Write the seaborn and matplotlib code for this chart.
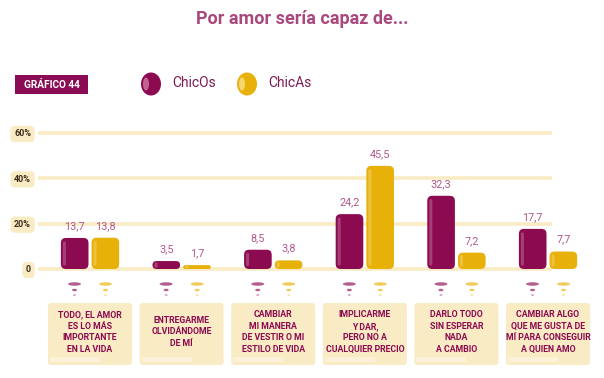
import pandas as pd
import matplotlib
matplotlib.use("Agg")
import matplotlib.pyplot as plt
import seaborn as sns
from matplotlib.patches import FancyBboxPatch, Ellipse, Rectangle

categorias = [
    "TODO, EL AMOR\nES LO MÁS\nIMPORTANTE\nEN LA VIDA",
    "ENTREGARME\nOLVIDÁNDOME\nDE MÍ",
    "CAMBIAR\nMI MANERA\nDE VESTIR O MI\nESTILO DE VIDA",
    "IMPLICARME\nY DAR,\nPERO NO A\nCUALQUIER PRECIO",
    "DARLO TODO\nSIN ESPERAR\nNADA\nA CAMBIO",
    "CAMBIAR ALGO\nQUE ME GUSTA DE\nMÍ PARA CONSEGUIR\nA QUIEN AMO",
]
chicos = [13.7, 3.5, 8.5, 24.2, 32.3, 17.7]
chicas = [13.8, 1.7, 3.8, 45.5, 7.2, 7.7]
series = ["ChicOs", "ChicAs"]
ticks = [0, 20, 40, 60]
tick_labels = ["0", "20%", "40%", "60%"]

MORADO = "#8c0a50"
AMARILLO = "#e8b10a"
CREMA = "#f9ebc4"
TEXTO = "#8c0a50"
NUM = "#b0588c"

sns.set_theme(style="white")
plt.rcParams["font.family"] = ["Roboto", "DejaVu Sans"]

df = pd.DataFrame({
    "cat": categorias * 2,
    "serie": [series[0]] * 6 + [series[1]] * 6,
    "valor": chicos + chicas,
})

W, H = 604, 378
fig = plt.figure(figsize=(W / 100, H / 100), dpi=100)

# ejes principales (en pixeles: x 38..600, y 125..275)
x0 = -0.568
px_x = 91.6
y0_pix = 269
px_y = 136 / 60
left_pix, right_pix, top_pix, bot_pix = 38, 600, 125, 275
ax = fig.add_axes([left_pix / W, (H - bot_pix) / H,
                   (right_pix - left_pix) / W, (bot_pix - top_pix) / H])

sns.barplot(data=df, x="cat", y="valor", hue="serie", order=categorias,
            palette=[MORADO, AMARILLO], saturation=1, width=0.67, gap=0.1,
            legend=False, ax=ax, zorder=3)
ax.set_xlim(x0, x0 + (right_pix - left_pix) / px_x)
ax.set_ylim(-(bot_pix - y0_pix) / px_y, (y0_pix - top_pix) / px_y)

# lineas de la cuadricula
ax.hlines(ticks, x0, x0 + (552 - left_pix) / px_x, color=CREMA, lw=2.6, zorder=1)

# barras redondeadas
asp = px_x / px_y
r = 5 / px_x
barras = [p for p in ax.patches if isinstance(p, Rectangle)]
for p in barras:
    x, y, w, h = p.get_x(), p.get_y(), p.get_width(), p.get_height()
    color = p.get_facecolor()
    p.remove()
    rr = min(r, w / 2, h / asp / 2)
    ax.add_patch(FancyBboxPatch((x, y), w, h,
                                boxstyle=f"round,pad=0,rounding_size={rr}",
                                mutation_aspect=asp, fc=color, ec="none", zorder=3))
    # brillo lateral
    ax.add_patch(FancyBboxPatch((x + 2 / px_x, y + min(h * 0.15, 1.5)), 3 / px_x,
                                max(h - min(h * 0.3, 3), 0.3),
                                boxstyle=f"round,pad=0,rounding_size={min(1.5 / px_x, h / asp / 4)}",
                                mutation_aspect=asp, fc="white", alpha=0.22,
                                ec="none", zorder=4))
    ax.annotate(f"{h:.1f}".replace(".", ","), (x + w / 2, h), xytext=(0, 5),
                textcoords="offset points", ha="center", va="bottom",
                fontsize=7.8, color=NUM, zorder=5)

ax.set_xticks([])
ax.set_yticks(ticks)
ax.set_yticklabels(tick_labels)
ax.tick_params(axis="y", length=0, pad=5, labelsize=6.5)
for lab in ax.get_yticklabels():
    lab.set_fontweight("bold")
    lab.set_color("#3a2a1a")
    lab.set_bbox(dict(boxstyle="round,pad=0.4,rounding_size=0.5", fc=CREMA, ec="none"))
ax.set_xlabel("")
ax.set_ylabel("")
sns.despine(ax=ax, left=True, bottom=True)
ax.set_facecolor("none")

# capa en pixeles para titulo, leyenda y etiquetas
ov = fig.add_axes([0, 0, 1, 1], zorder=-1)
ov.set_xlim(0, W)
ov.set_ylim(H, 0)
ov.axis("off")

ov.text(W / 2, 19, "Por amor sería capaz de...", ha="center", va="center",
        fontsize=13, fontweight="bold", color="#a8487e")

ov.add_patch(Rectangle((15, 75), 73, 19, fc="#8a0c54", ec="none"))
ov.text(51.5, 84.5, "GRÁFICO 44", ha="center", va="center", fontsize=7.3,
        fontweight="bold", color="white")

for cx, col, nombre, luz in [(151, MORADO, series[0], "#d27aa6"),
                             (247, AMARILLO, series[1], "#fbe08a")]:
    ov.add_patch(Ellipse((cx, 84), 20, 23, fc=col, ec="none"))
    ov.add_patch(Ellipse((cx - 5, 84), 6, 13, fc=luz, ec="none", alpha=0.8))
    ov.text(cx + 21, 83, nombre, ha="left", va="center", fontsize=10,
            color="#7d1a55")

# cajas de categorias y embudos
centros = [0, 1, 2, 3, 4, 5]
for i, texto in enumerate(categorias):
    cx = left_pix + (centros[i] - x0) * px_x
    ov.add_patch(FancyBboxPatch((cx - 42, 303), 84, 62,
                                boxstyle="round,pad=0,rounding_size=3",
                                fc=CREMA, ec="none"))
    ov.add_patch(Rectangle((cx - 40, 357), 50, 5, fc="white", alpha=0.35, ec="none"))
    ov.text(cx, 332, texto, ha="center", va="center", fontsize=6.3,
            fontweight="bold", color=TEXTO, linespacing=1.35)
    for dx, col in [(-15.5, "#b4608f"), (15.5, "#f0cc5c")]:
        ov.add_patch(Ellipse((cx + dx, 284), 13, 3.5, fc=col, ec="none"))
        ov.add_patch(Ellipse((cx + dx, 290), 5, 2.5, fc=col, ec="none"))
        ov.add_patch(Ellipse((cx + dx, 295), 3, 1.5, fc=col, ec="none", alpha=0.7))

fig.savefig("out.png", dpi=100)
